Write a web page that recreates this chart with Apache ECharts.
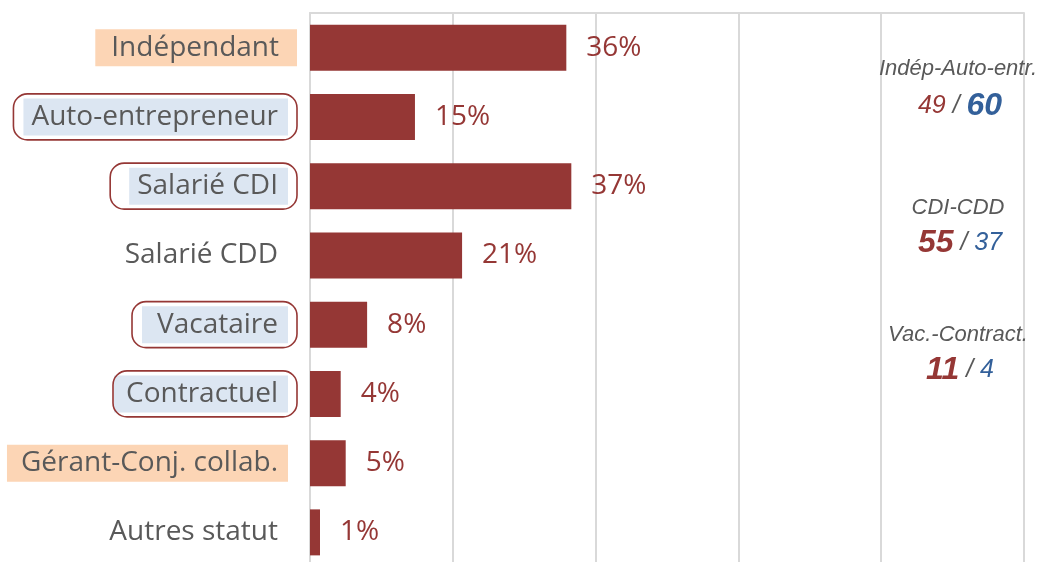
<!DOCTYPE html>
<html>
<head>
<meta charset="utf-8">
<script src="https://cdn.jsdelivr.net/npm/echarts@6/dist/echarts.min.js"></script>
<style>
html,body{margin:0;padding:0;background:#fff;}
#chart{width:1039px;height:562px;}
</style>
</head>
<body>
<div id="chart"></div>
<script>
// ---- data ----
const categories = ['Indépendant','Auto-entrepreneur','Salarié CDI','Salarié CDD','Vacataire','Contractuel','Gérant-Conj. collab.','Autres statut'];
const values = [35.9, 14.7, 36.6, 21.3, 8.0, 4.3, 5.0, 1.4];
const labelKind = ['peachA','blueA','blueC','plain','blueV','blueK','peachG','plain'];
const borderKind = ['', 'bdA', 'bdC', '', 'bdV', 'bdK', '', ''];
const xTicks = [0, 20, 40, 60, 80, 100];
const annoTitles = ['Indép-Auto-entr.', 'CDI-CDD', 'Vac.-Contract.'];
const annoLeft = [49, 55, 11];
const annoRight = [60, 37, 4];
const annoLeftBig = [false, true, true];

const RED = '#953735', BLUE = '#33609a', GREY = '#595959';
const PEACH = '#fcd5b5', LBLUE = '#dce6f2';
const FONT = 'Open Sans';
const FS = 28;

const chart = echarts.init(document.getElementById('chart'), null, {renderer:'canvas'});

const baseTxt = {fontFamily: FONT, fontSize: FS, color: GREY, lineHeight: 37, height: 37};
function fillStyle(bg, l, r) {
  return Object.assign({}, baseTxt, {backgroundColor: bg, padding: [0, r, 0, l]});
}
function bdStyle(l) {
  return {fontFamily: FONT, fontSize: FS, color: 'rgba(0,0,0,0)', lineHeight: 46, height: 46,
          borderColor: RED, borderWidth: 1.6, borderRadius: 14, padding: [0, 19, 0, l]};
}

const richFill = {
  peachA: fillStyle(PEACH, 16, 18),
  peachG: fillStyle(PEACH, 14, 10),
  blueA: fillStyle(LBLUE, 8, 10),
  blueC: fillStyle(LBLUE, 8, 10),
  blueV: fillStyle(LBLUE, 15, 10),
  blueK: fillStyle(LBLUE, 12, 10),
  plain: Object.assign({}, baseTxt, {padding: [0, 10, 0, 0]}),
  sp: {width: 9, fontSize: FS, lineHeight: 37, color: 'rgba(0,0,0,0)'}
};
const richBd = {
  bdA: bdStyle(18), bdC: bdStyle(27), bdV: bdStyle(25), bdK: bdStyle(13)
};

const option = {
  animation: false,
  backgroundColor: '#fff',
  grid: {left: 310, right: 15, top: 13, bottom: -5, containLabel: false, outerBoundsMode: 'none'},
  xAxis: {
    type: 'value', position: 'top', min: xTicks[0], max: xTicks[xTicks.length-1], interval: xTicks[1]-xTicks[0],
    axisLine: {show: true, lineStyle: {color: '#d9d9d9', width: 2}},
    axisTick: {show: false}, axisLabel: {show: false},
    splitLine: {show: true, lineStyle: {color: '#d9d9d9', width: 2}}
  },
  yAxis: [{
    type: 'category', data: categories, inverse: true,
    axisLine: {show: true, lineStyle: {color: '#d9d9d9', width: 2}},
    axisTick: {show: false},
    axisLabel: {
      margin: 13, align: 'right',
      formatter: function (v, i) {
        const k = labelKind[i];
        if (k === 'peachA') return '{' + k + '|' + v + '}';
        return '{' + k + '|' + v + '}{sp| }';
      },
      rich: richFill
    }
  }, {
    type: 'category', data: categories, inverse: true, position: 'left',
    axisLine: {show: false}, axisTick: {show: false}, splitLine: {show: false},
    axisLabel: {
      margin: 13, align: 'right',
      formatter: function (v, i) {
        const k = borderKind[i];
        return k ? '{' + k + '|' + v + '}' : '';
      },
      rich: richBd
    }
  }],
  series: [{
    type: 'bar', yAxisIndex: 0, data: values, barWidth: 46,
    itemStyle: {color: RED},
    label: {
      show: true, position: 'right', distance: 20,
      fontFamily: FONT, fontSize: FS, color: RED,
      formatter: p => Math.round(p.value) + '%'
    }
  }],
  graphic: []
};

const annoY = [[69, 106], [208, 243], [335, 370]];
annoTitles.forEach((t, i) => {
  option.graphic.push({
    type: 'text', x: 958, y: annoY[i][0], z: 100,
    style: {text: t, fill: GREY, font: 'italic 22px "Liberation Sans", Arial', align: 'center', verticalAlign: 'middle'}
  });
  const lb = annoLeftBig[i];
  option.graphic.push({
    type: 'text', x: 960, y: annoY[i][1], z: 100,
    style: {
      text: '{' + (lb ? 'rb' : 'rs') + '|' + annoLeft[i] + '}{sl| / }{' + (lb ? 'bs' : 'bb') + '|' + annoRight[i] + '}',
      align: 'center', verticalAlign: 'middle',
      rich: {
        rs: {fill: RED, fontFamily: 'Liberation Sans', fontStyle: 'italic', fontSize: 25},
        rb: {fill: RED, fontFamily: 'Liberation Sans', fontStyle: 'italic', fontWeight: 'bold', fontSize: 32},
        sl: {fill: GREY, fontFamily: 'Liberation Sans', fontStyle: 'italic', fontSize: 25},
        bs: {fill: BLUE, fontFamily: 'Liberation Sans', fontStyle: 'italic', fontSize: 25},
        bb: {fill: BLUE, fontFamily: 'Liberation Sans', fontStyle: 'italic', fontWeight: 'bold', fontSize: 32}
      }
    }
  });
});

chart.setOption(option);
</script>
</body>
</html>
